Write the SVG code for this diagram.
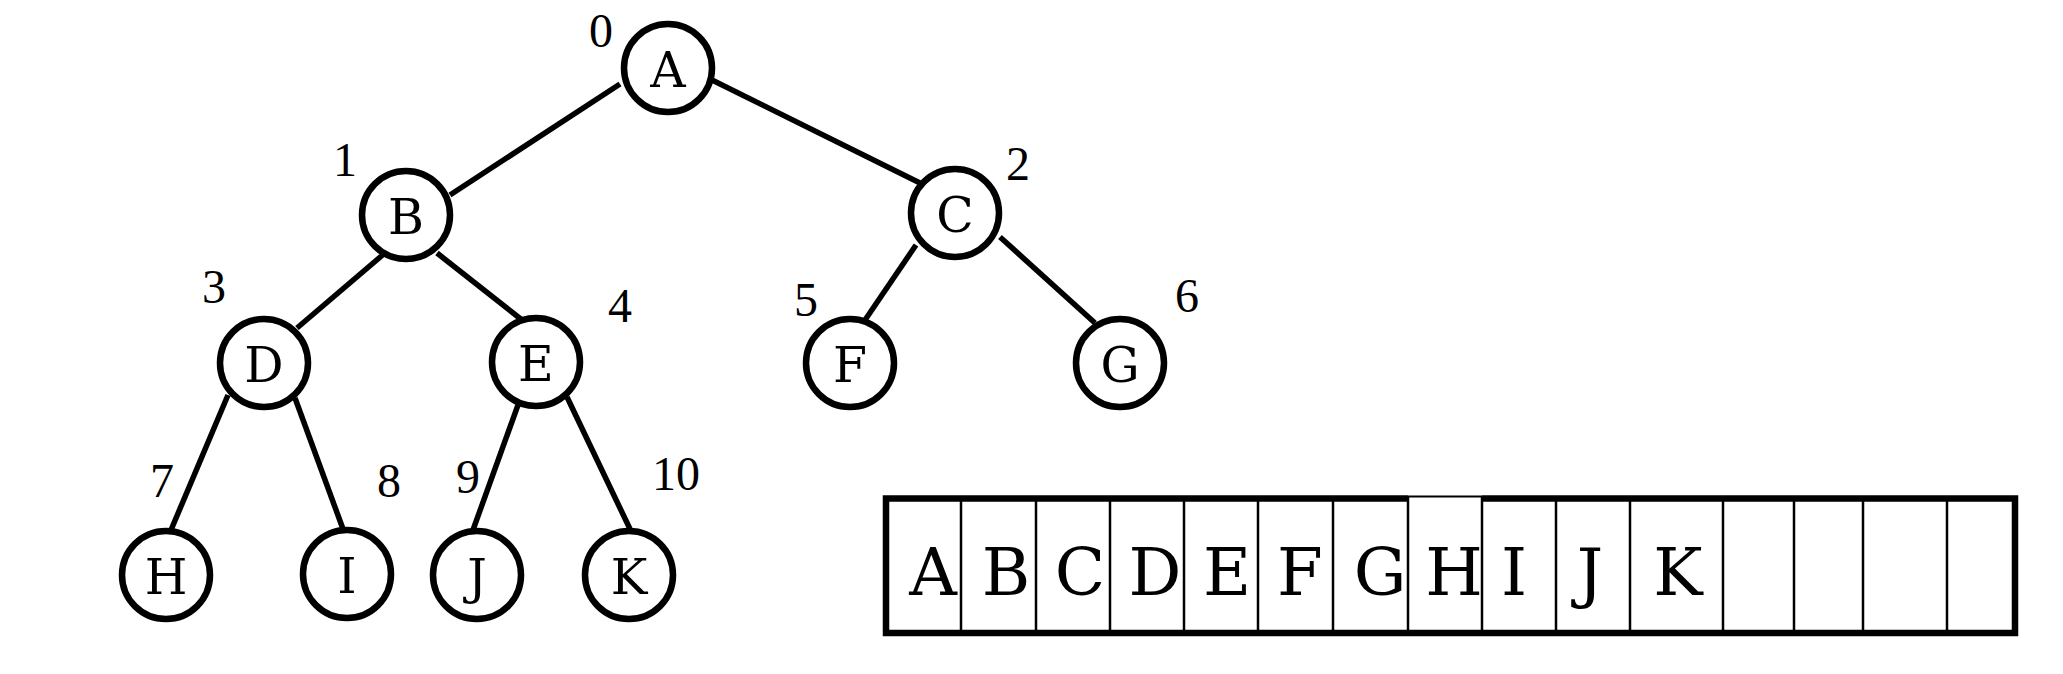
<svg xmlns="http://www.w3.org/2000/svg" width="2063" height="674" viewBox="0 0 2063 674">
<style>
  .node circle { fill: #fff; stroke: #000; stroke-width: 6.5; }
  .node text { font-family: "DejaVu Serif", serif; font-size: 49px; text-anchor: middle; fill: #000; }
  .idx { font-family: "Liberation Serif", serif; font-size: 48px; text-anchor: middle; fill: #000; }
  #connectors line { stroke: #000; stroke-width: 5.5; stroke-linecap: butt; }
  .cell { font-family: "DejaVu Serif", serif; font-size: 66px; text-anchor: middle; fill: #000; }
  .thick { stroke: #000; stroke-width: 6.5; fill: none; }
  .thin { stroke: #000; stroke-width: 2.5; fill: none; }
</style>
<rect width="2063" height="674" fill="#fff"/>
<g id="connectors">
  <line x1="620" y1="84" x2="450" y2="195"/>
  <line x1="712" y1="80" x2="920" y2="183"/>
  <line x1="385" y1="253" x2="297" y2="328"/>
  <line x1="437" y1="253" x2="522" y2="320"/>
  <line x1="916" y1="245" x2="863" y2="323"/>
  <line x1="1000" y1="237" x2="1095" y2="323"/>
  <line x1="228" y1="395" x2="171" y2="530"/>
  <line x1="295" y1="398" x2="343" y2="529"/>
  <line x1="518" y1="405" x2="473" y2="530"/>
  <line x1="567" y1="397" x2="630" y2="529"/>
</g>
<g id="node-A" class="node"><circle cx="668" cy="68" r="44"/><text x="668" y="87">A</text></g>
<g id="node-B" class="node"><circle cx="406" cy="215" r="44"/><text x="406" y="234">B</text></g>
<g id="node-C" class="node"><circle cx="955" cy="213" r="44"/><text x="955" y="232">C</text></g>
<g id="node-D" class="node"><circle cx="264" cy="363" r="44"/><text x="264" y="382">D</text></g>
<g id="node-E" class="node"><circle cx="536" cy="362" r="44"/><text x="536" y="381">E</text></g>
<g id="node-F" class="node"><circle cx="850" cy="363" r="44"/><text x="850" y="382">F</text></g>
<g id="node-G" class="node"><circle cx="1120" cy="363" r="44"/><text x="1120" y="382">G</text></g>
<g id="node-H" class="node"><circle cx="166" cy="575" r="44"/><text x="166" y="594">H</text></g>
<g id="node-I" class="node"><circle cx="347" cy="574" r="44"/><text x="347" y="593">I</text></g>
<g id="node-J" class="node"><circle cx="477" cy="575" r="44"/><text x="477" y="594">J</text></g>
<g id="node-K" class="node"><circle cx="629" cy="575" r="44"/><text x="629" y="594">K</text></g>
<g id="indices">
  <text class="idx" x="601" y="47">0</text>
  <text class="idx" x="345" y="176">1</text>
  <text class="idx" x="1018" y="180">2</text>
  <text class="idx" x="214" y="303">3</text>
  <text class="idx" x="620" y="322">4</text>
  <text class="idx" x="806" y="316">5</text>
  <text class="idx" x="1187" y="312">6</text>
  <text class="idx" x="162" y="497">7</text>
  <text class="idx" x="389" y="497">8</text>
  <text class="idx" x="468" y="493">9</text>
  <text class="idx" x="676" y="490">10</text>
</g>
<g id="array">
  <line class="thin" x1="961" y1="498" x2="961" y2="633"/>
  <line class="thin" x1="1036" y1="498" x2="1036" y2="633"/>
  <line class="thin" x1="1110" y1="498" x2="1110" y2="633"/>
  <line class="thin" x1="1184" y1="498" x2="1184" y2="633"/>
  <line class="thin" x1="1258" y1="498" x2="1258" y2="633"/>
  <line class="thin" x1="1333" y1="498" x2="1333" y2="633"/>
  <line class="thin" x1="1408" y1="496" x2="1408" y2="633"/>
  <line class="thin" x1="1482" y1="496" x2="1482" y2="633"/>
  <line class="thin" x1="1556" y1="498" x2="1556" y2="633"/>
  <line class="thin" x1="1630" y1="498" x2="1630" y2="633"/>
  <line class="thin" x1="1723" y1="498" x2="1723" y2="633"/>
  <line class="thin" x1="1794" y1="498" x2="1794" y2="633"/>
  <line class="thin" x1="1863" y1="498" x2="1863" y2="633"/>
  <line class="thin" x1="1947" y1="498" x2="1947" y2="633"/>
  <polyline class="thick" points="1408,498.5 886,498.5 886,633 2015,633 2015,498.5 1482,498.5"/>
  <line x1="1408" y1="496.5" x2="1482" y2="496.5" stroke="#000" stroke-width="2"/>
  <text class="cell" x="933" y="595">A</text>
  <text class="cell" x="1006" y="595">B</text>
  <text class="cell" x="1080" y="595">C</text>
  <text class="cell" x="1155" y="595">D</text>
  <text class="cell" x="1227" y="595">E</text>
  <text class="cell" x="1300" y="595">F</text>
  <text class="cell" x="1380" y="595">G</text>
  <text class="cell" x="1454" y="595">H</text>
  <text class="cell" x="1514" y="595">I</text>
  <text class="cell" x="1590" y="595">J</text>
  <text class="cell" x="1678" y="595">K</text>
</g>
</svg>
